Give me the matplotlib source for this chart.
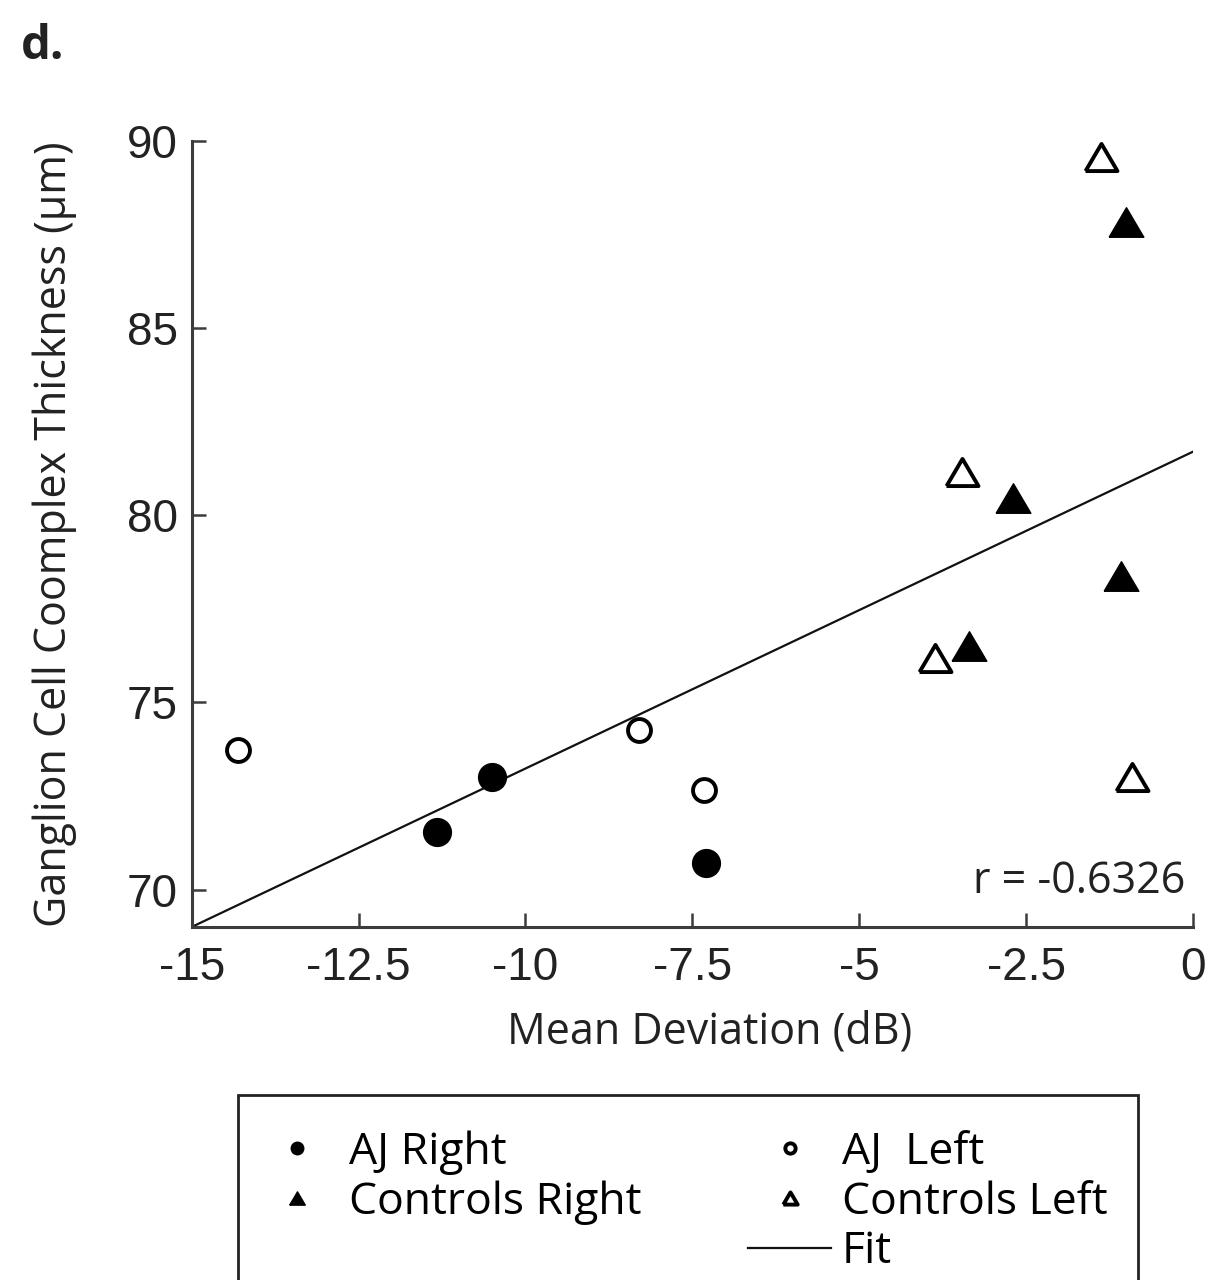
import matplotlib
matplotlib.use("Agg")
import matplotlib.pyplot as plt
from matplotlib.lines import Line2D
from matplotlib.patches import Rectangle

# values
aj_right_x = [-11.33, -10.50, -7.30]
aj_right_y = [71.55, 73.02, 70.72]
aj_left_x = [-14.30, -8.30, -7.33]
aj_left_y = [73.74, 74.25, 72.65]
ctrl_right_x = [-1.00, -2.70, -1.08, -3.36]
ctrl_right_y = [87.83, 80.45, 78.37, 76.52]
ctrl_left_x = [-1.38, -3.46, -3.87, -0.91]
ctrl_left_y = [89.57, 81.15, 76.18, 73.02]
fit_x = [-15, 0]
fit_y = [69.0, 81.7]

x_ticks = [-15, -12.5, -10, -7.5, -5, -2.5, 0]
x_tick_labels = ["-15", "-12.5", "-10", "-7.5", "-5", "-2.5", "0"]
y_ticks = [70, 75, 80, 85, 90]

label_font = ["Open Sans", "DejaVu Sans"]
tick_font = ["Liberation Sans", "DejaVu Sans"]
spine_col = "#3c3c3c"
# slightly flattened triangle, closed so the open ones get a full outline
tri = [(-1, -0.85), (1, -0.85), (0, 0.85), (-1, -0.85)]

fig = plt.figure(figsize=(12.13, 12.8), dpi=100)
ax = fig.add_axes([0.158, 0.2758, 0.8255, 0.614])

ax.plot(fit_x, fit_y, color="#111111", linewidth=1.6, label="Fit", zorder=2)
ax.plot(aj_right_x, aj_right_y, linestyle="none", marker="o", markersize=20,
        color="black", label="AJ Right", zorder=3)
ax.plot(aj_left_x, aj_left_y, linestyle="none", marker="o", markersize=16.5,
        markerfacecolor="white", markeredgecolor="black", markeredgewidth=2.8,
        label="AJ  Left", zorder=3)
ax.plot(ctrl_right_x, ctrl_right_y, linestyle="none", marker=tri, markersize=25,
        color="black", label="Controls Right", zorder=3)
ax.plot(ctrl_left_x, ctrl_left_y, linestyle="none", marker=tri, markersize=23,
        markerfacecolor="white", markeredgecolor="black", markeredgewidth=2.8,
        label="Controls Left", zorder=3)

ax.set_xlim(-15, 0)
ax.set_ylim(69.0, 90)
ax.set_xticks(x_ticks)
ax.set_xticklabels(x_tick_labels, family=tick_font, fontsize=33, color="#222222")
ax.set_yticks(y_ticks)
ax.set_yticklabels([str(v) for v in y_ticks], family=tick_font, fontsize=33,
                   color="#222222")
ax.tick_params(direction="in", length=10, width=1.8, color=spine_col)
ax.tick_params(axis="x", pad=14)
ax.tick_params(axis="y", pad=10)
for side in ["top", "right"]:
    ax.spines[side].set_visible(False)
for side in ["left", "bottom"]:
    ax.spines[side].set_linewidth(2.2)
    ax.spines[side].set_color(spine_col)

ax.set_xlabel("Mean Deviation (dB)", family=label_font, fontsize=31,
              color="#222222")
ax.xaxis.set_label_coords(0.517, -0.106)
ax.set_ylabel("Ganglion Cell Coomplex Thickness (\u03bcm)", family=label_font,
              fontsize=31, color="#222222", labelpad=36)

ax.text(0.992, 0.058, "r = -0.6326", transform=ax.transAxes, ha="right",
        va="center", family=label_font, fontsize=31, color="#222222")

fig.text(0.017, 0.964, "d.", family=label_font, fontsize=34, fontweight="bold",
         va="center", ha="left", color="#222222")

# legend frame runs off the bottom of the figure in the reference
fig.patches.append(Rectangle((0.196, -0.05), 0.742, 0.1945, transform=fig.transFigure,
                             fill=False, edgecolor="#222222", linewidth=2.0,
                             clip_on=False))

handles, labels = ax.get_legend_handles_labels()
lookup = dict(zip(labels, handles))
blank = Line2D([], [], linestyle="none")
order = ["AJ Right", "Controls Right", "", "AJ  Left", "Controls Left", "Fit"]
leg_handles = [lookup.get(name, blank) for name in order]
fig.legend(leg_handles, order, ncol=2, loc="upper left",
           bbox_to_anchor=(0.211, 0.117), frameon=False, markerscale=0.45,
           prop={"family": label_font, "size": 32}, handlelength=1.85,
           handletextpad=0.25, columnspacing=2.4, labelspacing=0.12,
           borderpad=0, borderaxespad=0)

fig.savefig("out.png", dpi=100)
